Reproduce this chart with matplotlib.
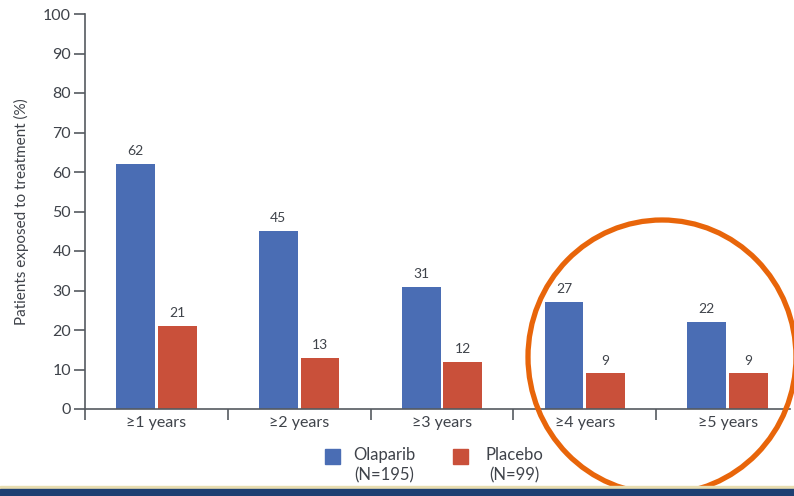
import matplotlib.pyplot as plt
import numpy as np
from matplotlib.patches import Rectangle, Ellipse

plt.rcParams['font.family'] = ['Lato', 'DejaVu Sans']

categories = ['≥1 years', '≥2 years', '≥3 years', '≥4 years', '≥5 years']
olaparib = [62, 45, 31, 27, 22]
placebo = [21, 13, 12, 9, 9]
series_names = ['Olaparib\n(N=195)', 'Placebo\n(N=99)']

blue = '#4A6DB4'
red = '#C9503A'
txt = '#3F434A'

W, H = 794, 496
fig = plt.figure(figsize=(W / 100, H / 100), dpi=100)
ax = fig.add_axes([85 / W, 1 - 409 / H, 714 / W, 395 / H])

x = np.arange(len(categories))
bw = 0.272
off = 0.146
b1 = ax.bar(x - off, olaparib, bw, color=blue)
b2 = ax.bar(x + off, placebo, bw, color=red)

for bars, vals in [(b1, olaparib), (b2, placebo)]:
    for b, v in zip(bars, vals):
        ax.annotate(str(v), (b.get_x() + b.get_width() / 2, v),
                    xytext=(0, 5), textcoords='offset points',
                    ha='center', va='bottom', fontsize=10, color=txt)

ax.set_xlim(-0.5, len(categories) - 0.5)
ax.set_ylim(0, 100)
ax.set_yticks(range(0, 101, 10))
ax.set_xticks(x)
ax.set_xticklabels(categories)
ax.set_xticks(np.arange(-0.5, len(categories) - 1, 1), minor=True)
ax.tick_params(axis='x', which='major', length=0, labelsize=11.5, labelcolor=txt, pad=5)
ax.tick_params(axis='x', which='minor', length=8, width=1.2, color='#555a60')
ax.tick_params(axis='y', length=8, width=1.2, color='#555a60', labelsize=11.5,
               labelcolor=txt, pad=2)
for s in ['top', 'right']:
    ax.spines[s].set_visible(False)
for s in ['left', 'bottom']:
    ax.spines[s].set_color('#555a60')
    ax.spines[s].set_linewidth(1.2)
ax.spines['bottom'].set_bounds(-0.5, len(categories) - 0.56)
ax.set_ylabel('Patients exposed to treatment (%)', fontsize=11, color=txt, labelpad=10)

# legend
for (px, name, col, tx) in [(325, series_names[0], blue, 384), (453, series_names[1], red, 514)]:
    fig.patches.append(Rectangle((px / W, 1 - 464 / H), 15 / W, 15 / H,
                                 transform=fig.transFigure, color=col))
    fig.text(tx / W, 1 - 465 / H, name, ha='center', va='center',
             fontsize=12, color=txt, linespacing=1.35)

# highlight circle
fig.patches.append(Ellipse((662 / W, 1 - 357 / H), 268 / W, 274 / H,
                           transform=fig.transFigure, fill=False,
                           edgecolor='#E8650A', linewidth=3.8))

# bottom band
fig.patches.append(Rectangle((0, 7 / H), 1, 3 / H, transform=fig.transFigure,
                             color='#E8DDB0'))
fig.patches.append(Rectangle((0, 0), 1, 7 / H, transform=fig.transFigure,
                             color='#1E3F72'))

fig.savefig('out.png', dpi=100)
